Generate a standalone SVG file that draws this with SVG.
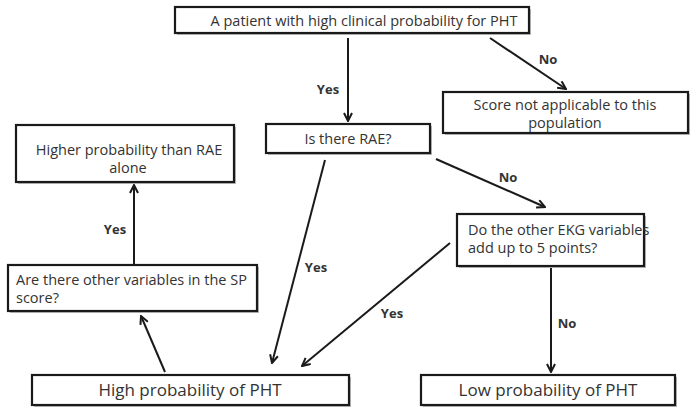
<svg xmlns="http://www.w3.org/2000/svg" width="700" height="414" viewBox="0 0 700 414">
<style>
.box{fill:#fff;stroke:#1a1a1a;stroke-width:2.2}
.sh{fill:#bbb}
.t{font-family:"Open Sans","Liberation Sans",sans-serif;font-size:14.5px;fill:#333}
.tl{font-family:"Open Sans","Liberation Sans",sans-serif;font-size:17px;fill:#333}
.lab{font-family:"Open Sans","Liberation Sans",sans-serif;font-size:13px;font-weight:bold;fill:#333}
.c{fill:none;stroke:#1a1a1a;stroke-width:2;marker-end:url(#ah)}
</style>
<defs>
<marker id="ah" viewBox="0 0 10 10" refX="9" refY="5" markerWidth="5" markerHeight="5" orient="auto" markerUnits="strokeWidth">
<path d="M1,1 L9,5 L1,9" fill="none" stroke="#1a1a1a" stroke-width="2"/>
</marker>
</defs>
<rect width="700" height="414" fill="#fff"/>
<g id="connectors">
<line class="c" x1="348" y1="38" x2="348" y2="121"/>
<line class="c" x1="490" y1="38" x2="566" y2="89"/>
<line class="c" x1="325" y1="160" x2="272" y2="363"/>
<line class="c" x1="436" y1="159" x2="545" y2="207"/>
<line class="c" x1="450" y1="243" x2="302" y2="366"/>
<line class="c" x1="551" y1="267" x2="551" y2="372"/>
<line class="c" x1="165" y1="372" x2="141" y2="316"/>
<line class="c" x1="134" y1="264" x2="134" y2="185"/>
<text class="lab" x="328" y="94" text-anchor="middle">Yes</text>
<text class="lab" x="548" y="64" text-anchor="middle">No</text>
<text class="lab" x="316" y="272" text-anchor="middle">Yes</text>
<text class="lab" x="508" y="182" text-anchor="middle">No</text>
<text class="lab" x="392" y="318" text-anchor="middle">Yes</text>
<text class="lab" x="567" y="328" text-anchor="middle">No</text>
<text class="lab" x="115" y="234" text-anchor="middle">Yes</text>
</g>
<g id="n_top">
<rect class="sh" x="177" y="9" width="354" height="26"/>
<rect class="box" x="175" y="7" width="354" height="26"/>
<text class="t" x="364" y="26" text-anchor="middle">A patient with high clinical probability for PHT</text>
</g>
<g id="n_score">
<rect class="sh" x="445" y="94" width="245" height="41"/>
<rect class="box" x="443" y="92" width="245" height="41"/>
<text class="t" x="565" y="110" text-anchor="middle">Score not applicable to this</text>
<text class="t" x="565" y="128" text-anchor="middle">population</text>
</g>
<g id="n_higher">
<rect class="sh" x="18" y="127" width="218" height="57"/>
<rect class="box" x="16" y="125" width="218" height="57"/>
<text class="t" x="129" y="155" text-anchor="middle">Higher probability than RAE</text>
<text class="t" x="128" y="173" text-anchor="middle">alone</text>
</g>
<g id="n_rae">
<rect class="sh" x="268" y="126" width="164" height="29"/>
<rect class="box" x="266" y="124" width="164" height="29"/>
<text class="t" x="348" y="144" text-anchor="middle">Is there RAE?</text>
</g>
<g id="n_ekg">
<rect class="sh" x="459" y="216" width="187" height="52"/>
<rect class="box" x="457" y="214" width="187" height="52"/>
<text class="t" x="468" y="235">Do the other EKG variables</text>
<text class="t" x="468" y="253">add up to 5 points?</text>
</g>
<g id="n_sp">
<rect class="sh" x="10" y="267" width="249" height="46"/>
<rect class="box" x="8" y="265" width="249" height="46"/>
<text class="t" x="16" y="285">Are there other variables in the SP</text>
<text class="t" x="16" y="303">score?</text>
</g>
<g id="n_high">
<rect class="sh" x="34" y="377" width="317" height="30"/>
<rect class="box" x="32" y="375" width="317" height="30"/>
<text class="tl" x="190" y="396" text-anchor="middle">High probability of PHT</text>
</g>
<g id="n_low">
<rect class="sh" x="423" y="377" width="254" height="30"/>
<rect class="box" x="421" y="375" width="254" height="30"/>
<text class="tl" x="548" y="396" text-anchor="middle">Low probability of PHT</text>
</g>
</svg>
